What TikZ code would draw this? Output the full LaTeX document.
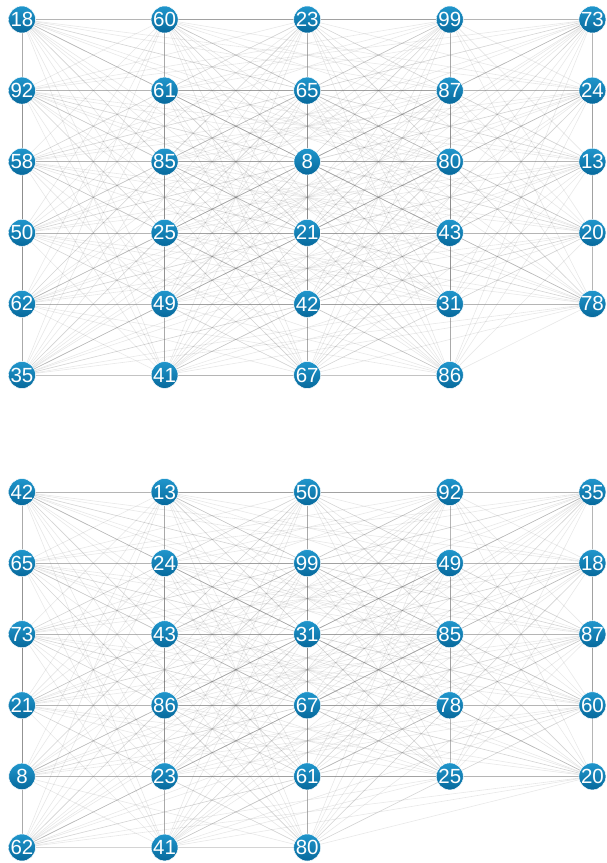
\documentclass[tikz,border=0pt]{standalone}
\usepackage{fontspec}
\setmainfont{Liberation Sans}
\definecolor{ntop}{HTML}{2096CC}
\definecolor{nmid}{HTML}{0E84BD}
\definecolor{nbot}{HTML}{07699C}
\pgfdeclarelayer{bg}
\pgfsetlayers{bg,main}
\begin{document}
\begin{tikzpicture}[x=1pt,y=-1pt,
  nd/.style={circle, minimum size=26.5pt, inner sep=0pt, draw=white, line width=0.5pt,
    top color=ntop, middle color=nmid, bottom color=nbot, text=white,
    font=\fontsize{20.5}{20.5}\selectfont},
  ed/.style={draw=black!55, opacity=0.17, line width=0.6pt}]
\useasboundingbox (0,0) rectangle (606,863);
% top graph
\foreach \lab [count=\i from 0] in {18,60,23,99,73,92,61,65,87,24,58,85,8,80,13,50,25,21,43,20,62,49,42,31,78,35,41,67,86}{
  \pgfmathtruncatemacro\cc{mod(\i,5)}
  \pgfmathtruncatemacro\rr{div(\i,5)}
  \node[nd] (t\i) at ({22+142.6*\cc},{19.5+71.1*\rr}) {\lab};
}
% bottom graph
\foreach \lab [count=\i from 0] in {42,13,50,92,35,65,24,99,49,18,73,43,31,85,87,21,86,67,78,60,8,23,61,25,20,62,41,80}{
  \pgfmathtruncatemacro\cc{mod(\i,5)}
  \pgfmathtruncatemacro\rr{div(\i,5)}
  \node[nd] (b\i) at ({22+142.6*\cc},{492+71.1*\rr}) {\lab};
}
\begin{pgfonlayer}{bg}
\foreach \i in {0,...,28}{
  \foreach \j in {\i,...,28}{
    \ifnum\j>\i \draw[ed] (t\i.center) -- (t\j.center); \fi
  }
}
\foreach \i in {0,...,27}{
  \foreach \j in {\i,...,27}{
    \ifnum\j>\i \draw[ed] (b\i.center) -- (b\j.center); \fi
  }
}
\end{pgfonlayer}
\end{tikzpicture}
\end{document}
